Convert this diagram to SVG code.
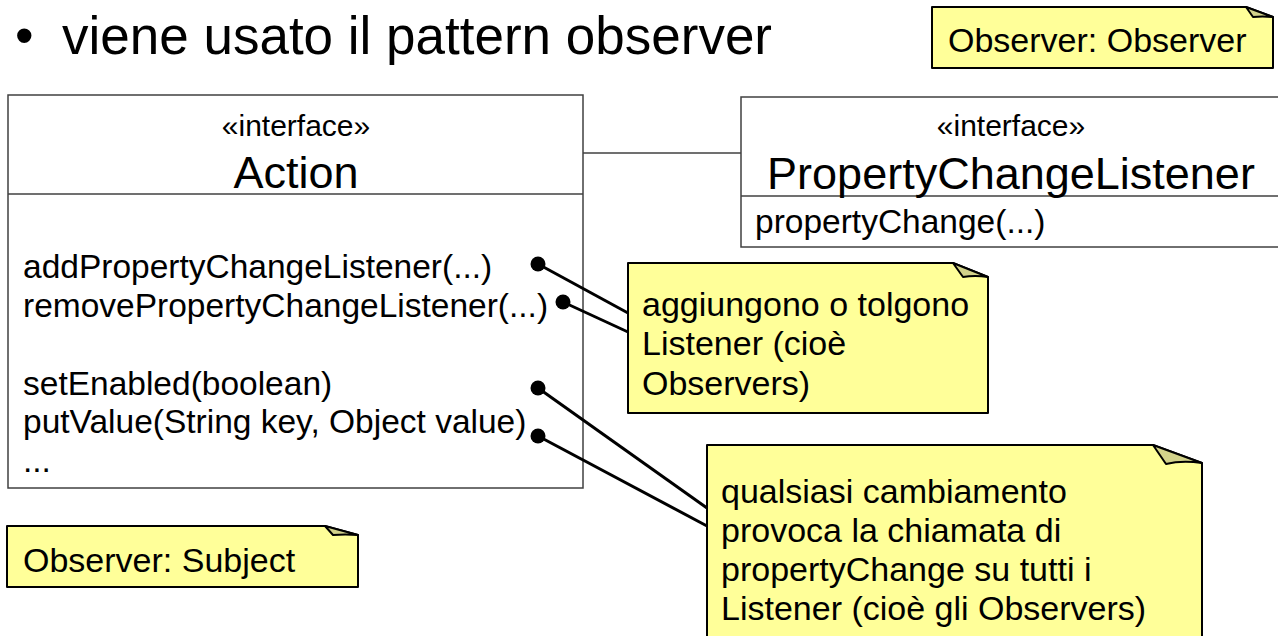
<svg xmlns="http://www.w3.org/2000/svg" width="1278" height="636" viewBox="0 0 1278 636">
  <style>
    text { font-family: "Liberation Sans", Arial, sans-serif; fill: #000; }
    .title { font-size: 53px; }
    .stereo { font-size: 30px; text-anchor: middle; }
    .cname { font-size: 45px; text-anchor: middle; }
    .op { font-size: 33.5px; }
    .note-text { font-size: 34px; }
    .box { fill: #fff; stroke: #404040; stroke-width: 1.5; }
    .divider { stroke: #404040; stroke-width: 1.5; fill: none; }
    .note { fill: #ffff99; stroke: #000; stroke-width: 2; stroke-linejoin: round; }
    .fold { fill: #d2d28a; stroke: #000; stroke-width: 2; stroke-linejoin: round; }
    .assoc { stroke: #404040; stroke-width: 1.5; fill: none; }
    .anchor { stroke: #000; stroke-width: 3; fill: none; }
    .dot { fill: #000; }
  </style>

  <!-- heading bullet -->
  <g id="heading">
    <text class="title" x="15" y="54">•</text>
    <text class="title" x="62" y="54">viene usato il pattern observer</text>
  </g>

  <!-- Action interface -->
  <g id="action">
    <rect class="box" x="8" y="95" width="575" height="393"/>
    <line class="divider" x1="8" y1="194" x2="583" y2="194"/>
    <text class="stereo" x="296" y="136">«interface»</text>
    <text class="cname" x="296" y="188">Action</text>
    <text class="op" x="23" y="278">addPropertyChangeListener(...)</text>
    <text class="op" x="23" y="317">removePropertyChangeListener(...)</text>
    <text class="op" x="23" y="395">setEnabled(boolean)</text>
    <text class="op" x="23" y="433">putValue(String key, Object value)</text>
    <text class="op" x="23" y="472">...</text>
  </g>

  <!-- PropertyChangeListener interface (runs past the right edge) -->
  <g id="property-change-listener">
    <rect class="box" x="741" y="97" width="560" height="150"/>
    <line class="divider" x1="741" y1="196" x2="1290" y2="196"/>
    <text class="stereo" x="1011" y="136">«interface»</text>
    <text class="cname" x="1011" y="189">PropertyChangeListener</text>
    <text class="op" x="755" y="233">propertyChange(...)</text>
  </g>

  <!-- association and note anchors -->
  <g id="connectors">
    <line class="assoc" x1="583" y1="153" x2="741" y2="153"/>
    <line class="anchor" x1="538" y1="264" x2="628" y2="313"/>
    <line class="anchor" x1="563" y1="302" x2="628" y2="332"/>
    <line class="anchor" x1="538" y1="388" x2="707" y2="508"/>
    <line class="anchor" x1="538" y1="436" x2="707" y2="526"/>
    <circle class="dot" cx="538" cy="264" r="7.5"/>
    <circle class="dot" cx="563" cy="302" r="7.5"/>
    <circle class="dot" cx="538" cy="388" r="7.5"/>
    <circle class="dot" cx="538" cy="436" r="7.5"/>
  </g>

  <!-- note: Observer role of the listener -->
  <g id="note-observer">
    <path class="note" d="M932,7 H1246 L1273,17 V68 H932 Z"/>
    <path class="fold" d="M1246,7 L1253,17 Q1262,16 1273,17 Z"/>
    <text class="note-text" x="948" y="52">Observer: Observer</text>
  </g>

  <!-- note: Subject role of Action -->
  <g id="note-subject">
    <path class="note" d="M7,526 H325 L358,535 V587 H7 Z"/>
    <path class="fold" d="M325,526 L333,535 Q345,534 358,535 Z"/>
    <text class="note-text" x="23" y="572">Observer: Subject</text>
  </g>

  <!-- note: add / remove listeners -->
  <g id="note-listeners">
    <path class="note" d="M628,263 H953 L988,277 V413 H628 Z"/>
    <path class="fold" d="M953,263 L963,277 Q975,275 988,277 Z"/>
    <text class="note-text" x="642" y="316">aggiungono o tolgono</text>
    <text class="note-text" x="642" y="355">Listener (cioè</text>
    <text class="note-text" x="642" y="395">Observers)</text>
  </g>

  <!-- note: any change notifies listeners -->
  <g id="note-changes">
    <path class="note" d="M707,445 H1153 L1202,463 V645 H707 Z"/>
    <path class="fold" d="M1153,445 L1166,464 Q1182,460 1202,463 Z"/>
    <text class="note-text" x="721" y="503">qualsiasi cambiamento</text>
    <text class="note-text" x="721" y="542">provoca la chiamata di</text>
    <text class="note-text" x="721" y="581">propertyChange su tutti i</text>
    <text class="note-text" x="721" y="620">Listener (cioè gli Observers)</text>
  </g>
</svg>
